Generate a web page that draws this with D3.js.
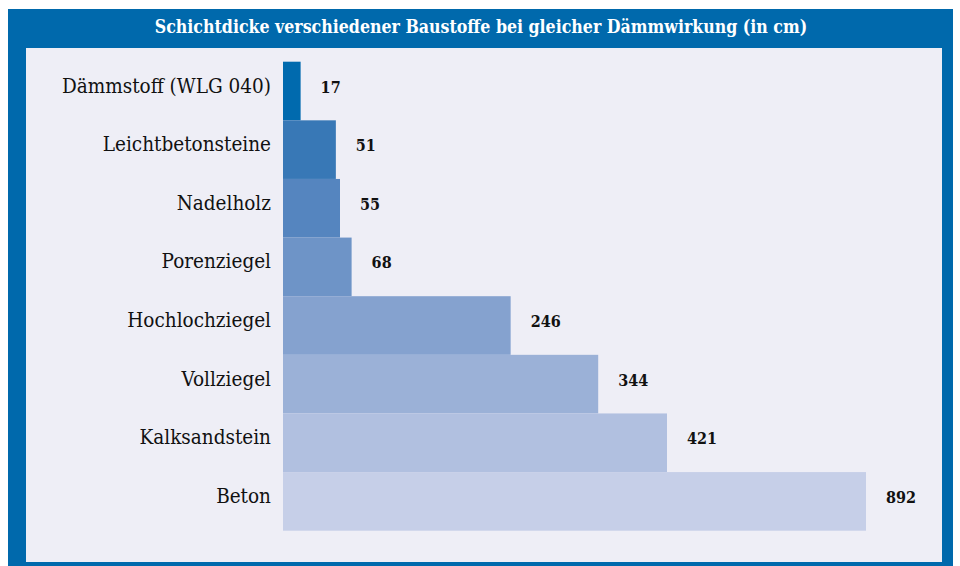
<!DOCTYPE html>
<html>
<head>
<meta charset="utf-8">
<script src="https://cdn.jsdelivr.net/npm/d3@7"></script>
<style>
  html, body { margin: 0; padding: 0; background: #fff; }
  svg { display: block; }
</style>
</head>
<body>
<svg width="960" height="566"></svg>
<script>
const TITLE = 'Schichtdicke verschiedener Baustoffe bei gleicher Dämmwirkung (in cm)';
const materials = ['Dämmstoff (WLG 040)', 'Leichtbetonsteine', 'Nadelholz', 'Porenziegel',
    'Hochlochziegel', 'Vollziegel', 'Kalksandstein', 'Beton'];
const thickness = [17, 51, 55, 68, 246, 344, 421, 892];

const svg = d3.select('svg');
const FONT = '"DejaVu Serif Condensed", "DejaVu Serif", serif';
const BLUE = '#0069ac';

// frame + panel
svg.append('rect')
    .attr('x', 8).attr('y', 9)
    .attr('width', 945).attr('height', 557)
    .attr('fill', BLUE);
svg.append('rect')
    .attr('x', 26).attr('y', 48)
    .attr('width', 916).attr('height', 514)
    .attr('fill', '#eeeef6');

svg.append('text')
    .text(TITLE)
    .attr('x', 481).attr('y', 33)
    .attr('text-anchor', 'middle')
    .style('fill', '#fff')
    .style('font-family', FONT)
    .style('font-stretch', 'condensed')
    .style('font-size', '17.6px')
    .style('font-weight', '700');

// the original chart is not drawn to one scale (Beton is squeezed), so the scale bends
const X_SCALE = d3.scaleLinear()
    .domain([0, 55, 421, 892])
    .range([283, 340, 667, 866]);

const Y_SCALE = d3.scaleBand()
    .domain(materials)
    .range([61.7, 530.7])
    .padding(0);

const COLOUR_SCALE = d3.scaleLinear()
    .domain([0, materials.length - 1])
    .range(['#006aae', '#c6cfe8'])
    .interpolate(d3.interpolateLab);

const rows = materials.map((m, i) => ({ name: m, value: thickness[i], i }));

svg.selectAll('rect.bar')
    .data(rows)
    .join('rect')
    .attr('class', 'bar')
    .attr('x', X_SCALE(0))
    .attr('y', d => Y_SCALE(d.name))
    .attr('width', d => X_SCALE(d.value) - X_SCALE(0))
    .attr('height', Y_SCALE.bandwidth())
    .attr('fill', d => COLOUR_SCALE(d.i));

svg.selectAll('text.cat')
    .data(rows)
    .join('text')
    .attr('class', 'cat')
    .text(d => d.name)
    .attr('x', 271)
    .attr('y', d => Y_SCALE(d.name) + Y_SCALE.bandwidth() / 2 + 1.5)
    .style('text-anchor', 'end')
    .style('fill', '#111')
    .style('font-family', FONT)
    .style('font-stretch', 'condensed')
    .style('font-size', '20.5px');

svg.selectAll('text.val')
    .data(rows)
    .join('text')
    .attr('class', 'val')
    .text(d => d.value)
    .attr('x', d => X_SCALE(d.value) + 20)
    .attr('y', d => Y_SCALE(d.name) + Y_SCALE.bandwidth() / 2 + 1.5)
    .style('text-anchor', 'start')
    .style('fill', '#111')
    .style('font-family', FONT)
    .style('font-stretch', 'condensed')
    .style('font-size', '16px')
    .style('font-weight', '700');
</script>
</body>
</html>
